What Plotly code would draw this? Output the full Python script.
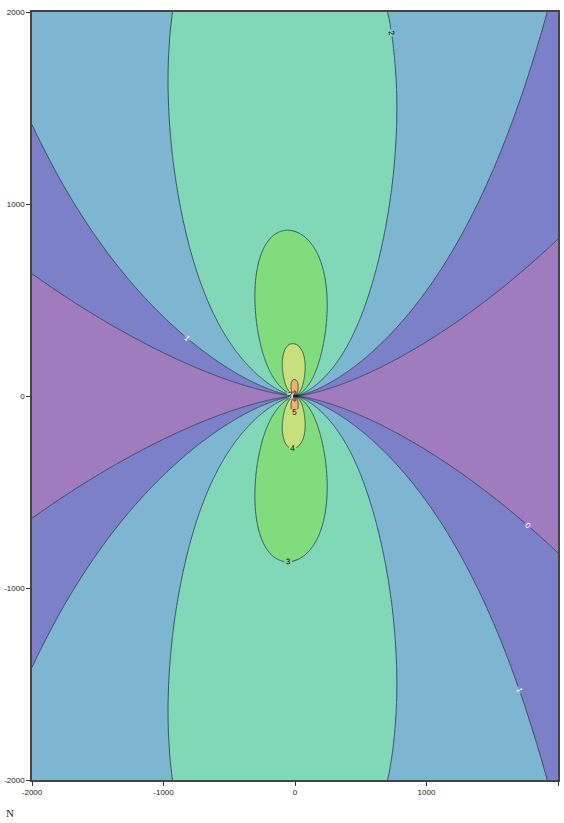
import numpy as np
import plotly.graph_objects as go

# ---- values ----
fill_levels = [0, 1, 2, 3, 4, 5, 6]          # contour levels (filled bands)
light_label_levels = [0, 1]                  # levels labelled in white
dark_label_levels = [2, 3, 4, 5, 6, 7, 8]    # levels labelled in black
band_colors = ["#a07cbe", "#7c80c8", "#7eb5d0", "#80d8b8",
               "#80dc7c", "#c8e07c", "#f0b070", "#e07a5a"]
x_ticks = [-2000, -1000, 0, 1000, 2000]
y_ticks = [-2000, -1000, 0, 1000, 2000]
x_limits = [-2000, 2000]
y_limits = [-2000, 2000]

# field: level 4 crosses the vertical axis at ~271,
# level 3 at ~870 (factor ~3.2 per level -> decay power 2); lobe sharpness,
# mid-angle dip and left/right bias estimated from contour crossings
level4_axis_distance = 271.0
decay_power = 2.0
lobe_power = 4.55
mid_angle_dip = 0.175
left_bias = 0.45

# ---- grid (denser near the origin) ----
u = np.linspace(-1, 1, 600)
xs = x_limits[1] * np.sinh(5 * u) / np.sinh(5)
ys = y_limits[1] * np.sinh(5 * u) / np.sinh(5)
X, Y = np.meshgrid(xs, ys)
R = np.hypot(X, Y)
A = 4 + decay_power * np.log10(level4_axis_distance)
with np.errstate(divide="ignore", invalid="ignore"):
    Z = (A + lobe_power * np.log10(np.abs(Y) / R)
         - mid_angle_dip * (2 * X * Y / R**2) ** 4
         + np.log10(1 - left_bias * X / R)
         - decay_power * np.log10(R))
Z = np.clip(np.nan_to_num(Z, nan=-5, neginf=-5, posinf=12), -5, 12)
Z = np.round(Z, 3)

n = len(band_colors) - 1
colorscale = [[k / n, c] for k, c in enumerate(band_colors)]

line_col = "#34465a"
fig = go.Figure()
fig.add_trace(go.Contour(
    x=xs, y=ys, z=Z,
    autocontour=False,
    contours=dict(start=fill_levels[0], end=fill_levels[-1], size=1,
                  coloring="fill", showlines=False),
    colorscale=colorscale, showscale=False,
    line=dict(width=0), hoverinfo="skip",
))
fig.add_trace(go.Contour(
    x=xs, y=ys, z=Z,
    autocontour=False,
    contours=dict(start=light_label_levels[0], end=light_label_levels[-1], size=1,
                  coloring="none", showlabels=True,
                  labelfont=dict(size=8, color="white", family="Liberation Sans")),
    line=dict(width=0.9, color=line_col), showscale=False, hoverinfo="skip",
))
fig.add_trace(go.Contour(
    x=xs, y=ys, z=Z,
    autocontour=False,
    contours=dict(start=dark_label_levels[0], end=dark_label_levels[-1], size=1,
                  coloring="none", showlabels=True,
                  labelfont=dict(size=8, color="black", family="Liberation Sans")),
    line=dict(width=0.9, color=line_col), showscale=False, hoverinfo="skip",
))

axis_common = dict(
    showgrid=False, zeroline=False, ticks="outside", ticklen=4,
    tickcolor="#333", showline=True, linecolor="#444", linewidth=1.5,
    mirror=True, automargin=False,
    tickfont=dict(size=8, color="#222", family="Liberation Sans"),
)
fig.update_xaxes(range=x_limits, tickvals=x_ticks,
                 ticktext=[str(v) for v in x_ticks], **axis_common)
fig.update_yaxes(range=y_limits, tickvals=y_ticks,
                 ticktext=[str(v) for v in y_ticks], **axis_common)

fig.add_annotation(text="N", xref="paper", yref="paper", x=-0.042, y=-0.043,
                   xanchor="center", yanchor="middle", showarrow=False,
                   font=dict(size=11, color="#222", family="Liberation Serif"))

fig.update_layout(
    width=564, height=823,
    margin=dict(l=32, r=6, t=12, b=43, autoexpand=False),
    paper_bgcolor="white", plot_bgcolor="white",
    showlegend=False,
)
fig.write_html("out.html", config={"displayModeBar": False},
               post_script="document.body.style.margin='0';"
                           "document.body.style.overflow='hidden';")
